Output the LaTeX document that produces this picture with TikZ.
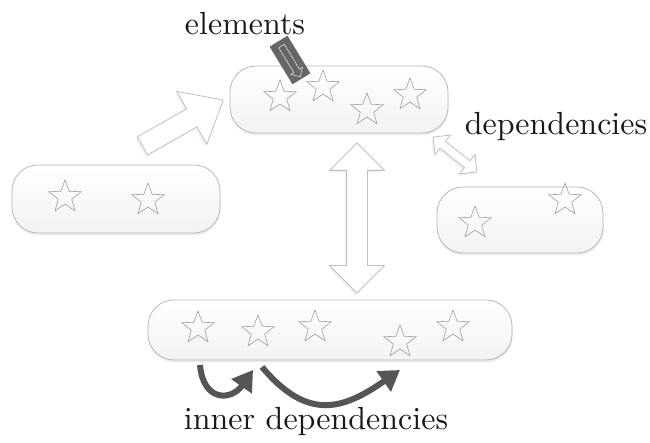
\documentclass[tikz,border=0pt]{standalone}
\usetikzlibrary{shapes.geometric,shapes.arrows,arrows.meta,shadows}
\begin{document}
\begin{tikzpicture}[x=1pt,y=1pt,
    group/.style={draw=gray!55, line width=0.8pt, rounded corners=26pt, top color=white, bottom color=gray!10, inner sep=0pt,
        drop shadow={shadow xshift=0.5pt, shadow yshift=-2.5pt, opacity=0.15}},
    elem/.style={star, star points=5, star point ratio=2.4, draw=gray!75, line width=0.6pt, minimum size=34pt, inner sep=0pt},
    hollow/.style={draw=gray!50, fill=white, line width=0.8pt, inner xsep=0pt,
        drop shadow={shadow xshift=-2pt, shadow yshift=-2pt, opacity=0.1}},
    label/.style={font=\normalsize, scale=3.2, anchor=base, inner sep=0pt, text=black!90},
    innerdep/.style={line width=6pt, draw=gray!67!black, -{Triangle[length=20pt,width=24pt]}}]
    \useasboundingbox (0,0) rectangle (650,443);
    \node[group, minimum width=218pt, minimum height=67pt] (top) at (339,343.5) {};
    \node[group, minimum width=208pt, minimum height=68pt] (left) at (116,244) {};
    \node[group, minimum width=166pt, minimum height=66pt] (right) at (520,223) {};
    \node[group, minimum width=364pt, minimum height=60pt] (bottom) at (330,113) {};
    \node[elem] (t1) at (280,346) {};
    \node[elem] (t2) at (323,356) {};
    \node[elem] (t3) at (367,333) {};
    \node[elem] (t4) at (410,348) {};
    \node[elem] (l1) at (65,246) {};
    \node[elem] (l2) at (148,243) {};
    \node[elem] (r1) at (475,220) {};
    \node[elem] (r2) at (565,243) {};
    \node[elem] (b1) at (198,115) {};
    \node[elem] (b2) at (258,111) {};
    \node[elem] (b3) at (315,116) {};
    \node[elem] (b4) at (400,101) {};
    \node[elem] (b5) at (453,116) {};
    \node[hollow, single arrow, inner ysep=10pt, minimum height=93pt, single arrow head extend=20pt,
        single arrow tip angle=80, rotate=29.6] (rise) at (177.5,317) {};
    \node[hollow, double arrow, inner ysep=10pt, minimum height=150pt, double arrow head extend=17pt,
        rotate=90] (link) at (357,225) {};
    \node[hollow, double arrow, inner ysep=4pt, minimum height=56pt, double arrow head extend=8pt,
        rotate=-38.5] (dep) at (455,288.5) {};
    \node[rectangle, fill=black!60, minimum width=44pt, minimum height=21pt, inner sep=0pt,
        rotate=-58.6] (elbox) at (290,383) {};
    \node[single arrow, draw=gray!25, line width=0.6pt, inner xsep=0pt, inner ysep=3pt, minimum height=36pt,
        single arrow head extend=3.5pt, rotate=-58.6] (elarrow) at (elbox) {};
    \node[label] (elements) at (245,408) {elements};
    \node[label] (deps) at (556,308) {dependencies};
    \node[label] (innerdeps) at (316,13) {inner dependencies};
    \draw[innerdep] ([shift={(2pt,-37pt)}]b1.center) to[out=-85,in=-125,looseness=1.8] ([shift={(-5pt,-38pt)}]b2.center);
    \draw[innerdep] ([shift={(4pt,-35pt)}]b2.center) to[out=-50,in=-145,looseness=1.3] ([shift={(0pt,-28pt)}]b4.center);
\end{tikzpicture}
\end{document}
